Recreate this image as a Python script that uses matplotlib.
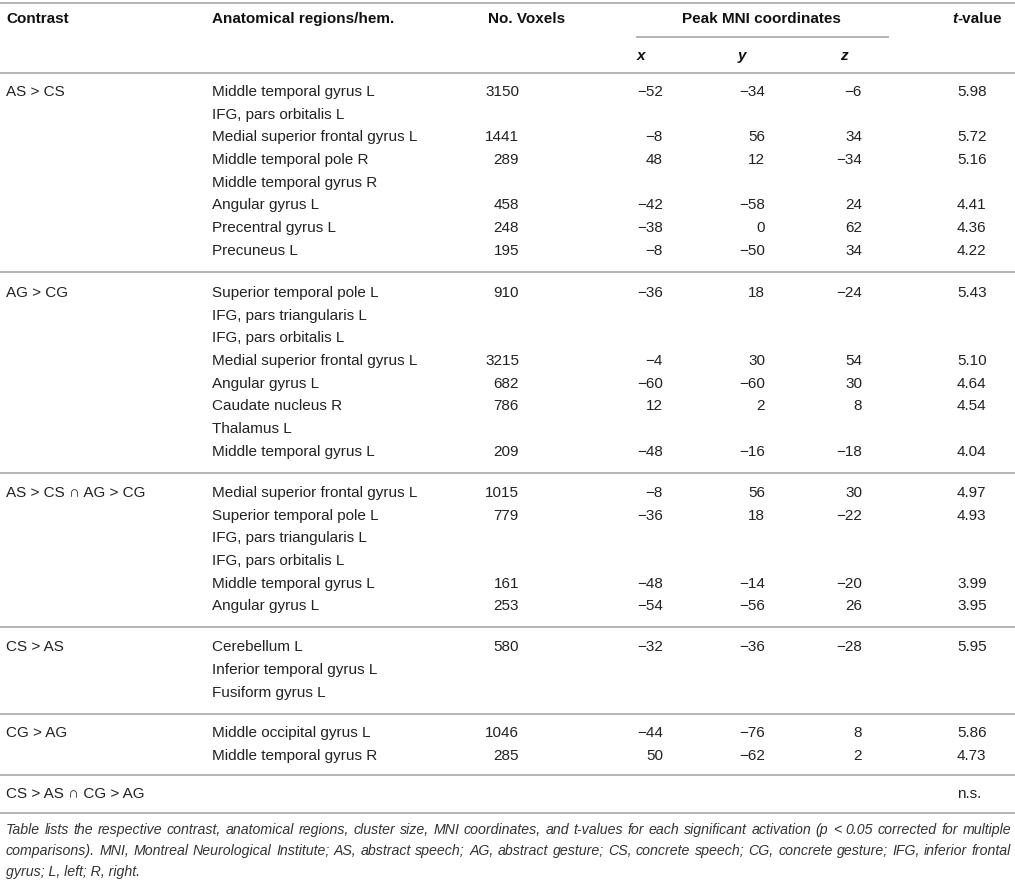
import matplotlib
matplotlib.use("Agg")
import matplotlib.pyplot as plt

# ---------------- data ----------------
contrasts = ["AS > CS", "AG > CG", "AS > CS \u2229 AG > CG", "CS > AS", "CG > AG",
             "CS > AS \u2229 CG > AG"]
section_sizes = [8, 8, 6, 3, 2, 1]

regions = [
    "Middle temporal gyrus L", "IFG, pars orbitalis L", "Medial superior frontal gyrus L",
    "Middle temporal pole R", "Middle temporal gyrus R", "Angular gyrus L",
    "Precentral gyrus L", "Precuneus L",
    "Superior temporal pole L", "IFG, pars triangularis L", "IFG, pars orbitalis L",
    "Medial superior frontal gyrus L", "Angular gyrus L", "Caudate nucleus R",
    "Thalamus L", "Middle temporal gyrus L",
    "Medial superior frontal gyrus L", "Superior temporal pole L", "IFG, pars triangularis L",
    "IFG, pars orbitalis L", "Middle temporal gyrus L", "Angular gyrus L",
    "Cerebellum L", "Inferior temporal gyrus L", "Fusiform gyrus L",
    "Middle occipital gyrus L", "Middle temporal gyrus R",
    "",
]
voxels = [3150, None, 1441, 289, None, 458, 248, 195,
          910, None, None, 3215, 682, 786, None, 209,
          1015, 779, None, None, 161, 253,
          580, None, None,
          1046, 285,
          None]
x_mni = [-52, None, -8, 48, None, -42, -38, -8,
         -36, None, None, -4, -60, 12, None, -48,
         -8, -36, None, None, -48, -54,
         -32, None, None,
         -44, 50,
         None]
y_mni = [-34, None, 56, 12, None, -58, 0, -50,
         18, None, None, 30, -60, 2, None, -16,
         56, 18, None, None, -14, -56,
         -36, None, None,
         -76, -62,
         None]
z_mni = [-6, None, 34, -34, None, 24, 62, 34,
         -24, None, None, 54, 30, 8, None, -18,
         30, -22, None, None, -20, 26,
         -28, None, None,
         8, 2,
         None]
t_values = ["5.98", "", "5.72", "5.16", "", "4.41", "4.36", "4.22",
            "5.43", "", "", "5.10", "4.64", "4.54", "", "4.04",
            "4.97", "4.93", "", "", "3.99", "3.95",
            "5.95", "", "",
            "5.86", "4.73",
            "n.s."]

caption_lines = [
    "Table lists the respective contrast, anatomical regions, cluster size, MNI coordinates, and t-values for each significant activation (p < 0.05 corrected for multiple",
    "comparisons). MNI, Montreal Neurological Institute; AS, abstract speech; AG, abstract gesture; CS, concrete speech; CG, concrete gesture; IFG, inferior frontal",
    "gyrus; L, left; R, right.",
]

# ---------------- layout ----------------
W, H = 1015, 881
FAM = ["Liberation Sans", "DejaVu Sans"]
FS = 11.0
TXT = "#222222"
LINE = "#b4b4b4"
LW = 1.4

col_contrast = 6
col_region = 212
col_vox_left = 488
col_vox_right = 519
col_x = 637
col_x_right = 663
col_y = 738
col_y_right = 765
col_z = 840
col_z_right = 862
col_t_head = 952
col_t = 957

fig = plt.figure(figsize=(W / 100, H / 100), dpi=100)
ax = fig.add_axes([0, 0, 1, 1])
ax.set_xlim(0, W)
ax.set_ylim(H, 0)
ax.axis("off")
fig.canvas.draw()
renderer = fig.canvas.get_renderer()


def width_of(s, **kw):
    t = ax.text(0, 0, s, **kw)
    w = t.get_window_extent(renderer).width
    t.remove()
    return w


def fmt(v):
    if v is None:
        return ""
    return ("\u2212%d" % -v) if v < 0 else "%d" % v


def hline(y, x0=0, x1=W):
    ax.plot([x0, x1], [y, y], color=LINE, lw=LW, solid_capstyle="butt")


# header
hline(2.5)
hb = dict(fontsize=FS, family=FAM, weight="bold", color="#111111", va="center")
y_h1, y_h2 = 19, 56
ax.text(col_contrast, y_h1, "Contrast", ha="left", **hb)
ax.text(col_region, y_h1, "Anatomical regions/hem.", ha="left", **hb)
ax.text(col_vox_left, y_h1, "No. Voxels", ha="left", **hb)
ax.text((636 + 889) / 2 - 1, y_h1, "Peak MNI coordinates", ha="center", **hb)
hline(36.5, 636, 889)
ax.text(col_x, y_h2, "x", ha="left", style="italic", **hb)
ax.text(col_y, y_h2, "y", ha="left", style="italic", **hb)
ax.text(col_z, y_h2, "z", ha="left", style="italic", **hb)
ax.text(col_t_head, y_h1, "t", ha="left", style="italic", **hb)
tw = width_of("t", fontsize=FS, family=FAM, weight="bold", style="italic")
ax.text(col_t_head + tw, y_h1, "-value", ha="left", **hb)
hline(72.5)

# body
bt = dict(fontsize=FS, family=FAM, color=TXT, va="center")
step = 22.65
y = 92.0
row = 0
seps_after = [21.5, 21.5, 21.0, 21.0, 19.5, 19.5]
seps_before = [21.0, 20.0, 20.0, 19.5, 18.5]
for si, n in enumerate(section_sizes):
    ax.text(col_contrast, y, contrasts[si], ha="left", **bt)
    for k in range(n):
        ax.text(col_region, y, regions[row], ha="left", **bt)
        if voxels[row] is not None:
            ax.text(col_vox_right, y, str(voxels[row]), ha="right", **bt)
        ax.text(col_x_right, y, fmt(x_mni[row]), ha="right", **bt)
        ax.text(col_y_right, y, fmt(y_mni[row]), ha="right", **bt)
        ax.text(col_z_right, y, fmt(z_mni[row]), ha="right", **bt)
        ax.text(col_t, y, t_values[row], ha="left", **bt)
        row += 1
        if k < n - 1:
            y += step
    ly = y + seps_after[si]
    hline(ly)
    if si < len(seps_before):
        y = ly + seps_before[si]

# caption (justified); size chosen so line 1 fills the width naturally
left, right = 6, 1011
base = dict(family=FAM, style="italic", color="#333333", va="center")
w10 = width_of(caption_lines[0], fontsize=10, **base)
cfs = 10 * (right - left) / w10 * 0.99
ct = dict(fontsize=cfs, **base)
cy = [ly + 17, ly + 38, ly + 59]
for li, line in enumerate(caption_lines):
    words = line.split(" ")
    if li < len(caption_lines) - 1:
        ws = [width_of(w, **ct) for w in words]
        gap = (right - left - sum(ws)) / (len(words) - 1)
        xx = left
        for w, wd in zip(words, ws):
            ax.text(xx, cy[li], w, ha="left", **ct)
            xx += wd + gap
    else:
        ax.text(left, cy[li], line, ha="left", **ct)

fig.savefig("out.png", dpi=100)
